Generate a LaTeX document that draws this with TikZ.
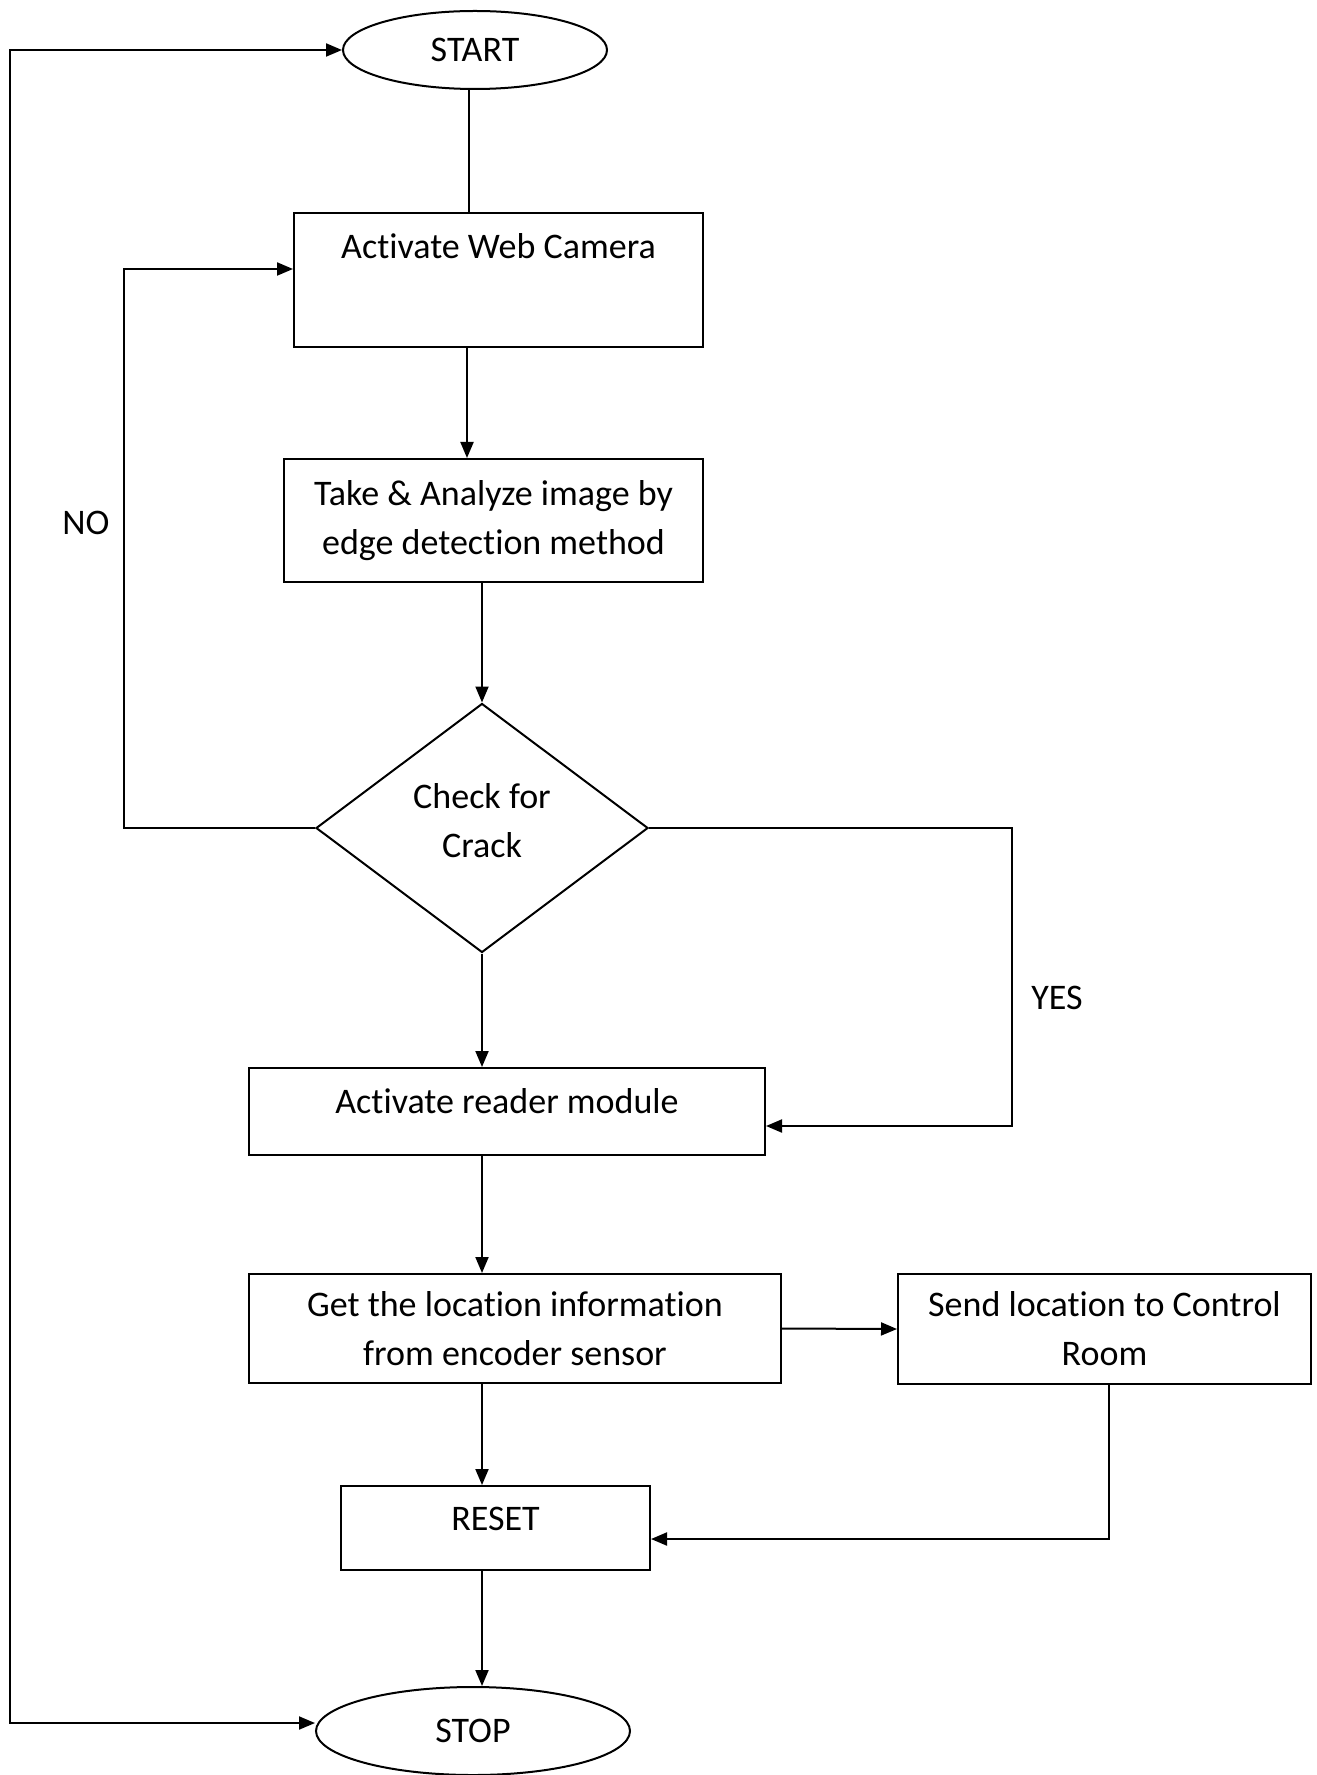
\documentclass[tikz,border=0pt]{standalone}
\usepackage{fontspec}
\setmainfont{Carlito}[RawFeature={-liga;-clig;-calt;-dlig}]
\usetikzlibrary{arrows.meta,shapes.geometric}

\begin{document}
\begin{tikzpicture}[>={Triangle[length=8pt,width=6.5pt]},line width=1pt,x=0.5pt,y=-0.5pt,
  every node/.style={font=\fontsize{18}{24.5}\selectfont},
  box/.style={draw,rectangle,align=center,inner sep=0pt},
  oval/.style={draw,ellipse,inner sep=0pt},
  decision/.style={draw,diamond,align=center,inner sep=0pt}]

% Rahmen
\path[use as bounding box,fill=white] (0,0) rectangle (1316,1775);

% Start und Ende
\node[oval,minimum width=132pt,minimum height=39pt] (start) at (475,50) {START};
\node[oval,minimum width=157pt,minimum height=44pt] (stop) at (473,1731) {STOP};

% Kaesten
\node[box,minimum width=204.5pt,minimum height=67pt,text height=13pt,text depth=34.4pt] (cam) at (498.5,280) {Activate Web Camera};
\node[box,minimum width=209.5pt,minimum height=61.5pt] (take) at (493.5,520.5) {Take \& Analyze image by\\edge detection method};
\node[decision,minimum width=166pt,minimum height=124.5pt] (check) at (482,828) {Check for\\Crack\\[-16.5pt]};
\node[box,minimum width=258pt,minimum height=43.5pt,text height=13pt,text depth=11pt] (reader) at (507,1111.5) {Activate reader module};
\node[box,minimum width=266pt,minimum height=54.5pt] (getloc) at (515,1328.5) {Get the location information\\from encoder sensor};
\node[box,minimum width=206.5pt,minimum height=55pt] (send) at (1104.5,1329) {Send location to Control\\Room};
\node[box,minimum width=154.5pt,minimum height=42pt,text height=13pt,text depth=11pt] (reset) at (495.5,1528) {RESET};

% Beschriftungen
\node (no) at (86,523) {NO};
\node (yes) at (1057,998) {YES};

% Hilfspunkte
\coordinate (loopx) at (10,0);
\coordinate (nocorner) at (124,828);
\coordinate (yescorner) at (1012,828);

% Hauptlinie
\draw ([xshift=-3pt]start.south) -- ([xshift=-3pt]start.south |- cam.north);
\draw[->] ([xshift=-15.75pt]cam.south) -- ([xshift=-15.75pt]cam.south |- take.north);
\draw[->] (check.north |- take.south) -- (check.north);
\draw[->] (check.south) -- (check.south |- reader.north);
\draw[->] (check.south |- reader.south) -- (check.south |- getloc.north);
\draw[->] (check.south |- getloc.south) -- (check.south |- reset.north);
\draw[->] (check.south |- reset.south) -- (check.south |- stop.north);

% Verzweigungen
\draw[->] (check.west) -- (nocorner) |- ([yshift=5.5pt]cam.west);
\draw[->] (check.east) -- (yescorner) |- ([yshift=-7.25pt]reader.east);

% Ortung
\draw[->] (getloc.east) -- (send.west);
\draw[->] ([xshift=2.25pt]send.south) |- ([yshift=-5.5pt]reset.east);

% Rueckfuehrung
\draw[<->] (start.west) -- (start.west -| loopx) |- ([yshift=4pt]stop.west);

\end{tikzpicture}
\end{document}
